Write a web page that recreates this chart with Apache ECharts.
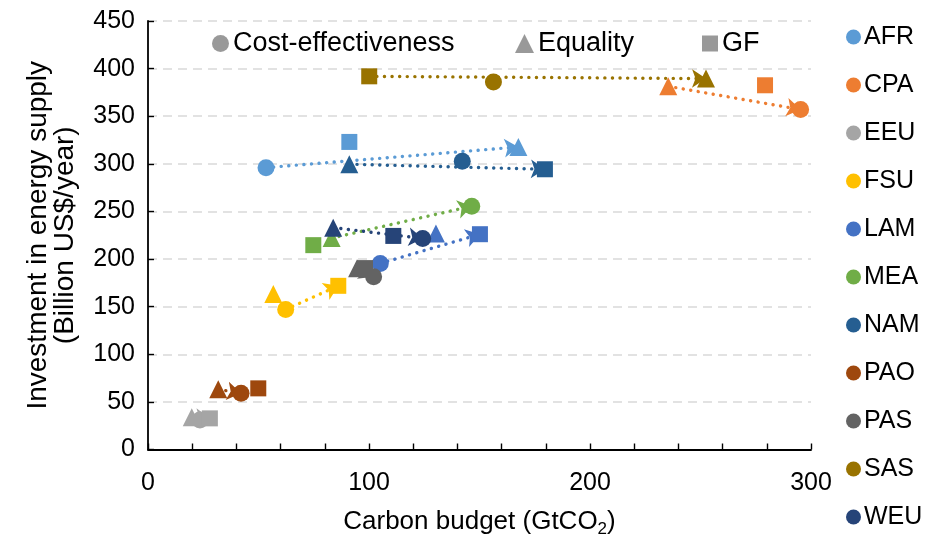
<!DOCTYPE html>
<html>
<head>
<meta charset="utf-8">
<script src="https://cdn.jsdelivr.net/npm/echarts@6/dist/echarts.min.js"></script>
<style>
  html, body { margin: 0; padding: 0; background: #fff; }
  #chart { width: 933px; height: 543px; }
</style>
</head>
<body>
<div id="chart"></div>
<script>
// Regions and their colours
const regions = ['AFR', 'CPA', 'EEU', 'FSU', 'LAM', 'MEA', 'NAM', 'PAO', 'PAS', 'SAS', 'WEU'];
const regionColors = ['#5B9BD5', '#ED7D31', '#A5A5A5', '#FFC000', '#4472C4', '#70AD47',
                      '#255E91', '#9E480E', '#636363', '#997300', '#264478'];

// Scenarios (top legend)
const scenarios = ['Cost-effectiveness', 'Equality', 'GF'];
const scenarioSymbols = ['circle', 'triangle', 'rect'];

// Carbon budget (GtCO2) and investment (Billion US$/year) per scenario, in region order
const costEffX = [53.4, 295.3, 23.5, 62.3, 105.1, 146.5, 142.2, 42.1, 102.1, 156.3, 124.3];
const costEffY = [296, 357, 31, 147, 195.4, 255.5, 302.7, 59, 181.3, 386, 221.6];
const equalityX = [167.6, 235.4, 19.8, 56.7, 130.3, 83.1, 91.1, 31.8, 94.6, 252.5, 83.8];
const equalityY = [317.7, 381.4, 33.8, 163.2, 226.9, 222, 299.6, 63.2, 190.4, 389.5, 233];
const gfX = [91.1, 279.2, 28, 86.1, 150.2, 74.8, 179.6, 49.9, 98.2, 100.1, 111];
const gfY = [323, 382.5, 32.7, 171.9, 226.1, 214.6, 294.3, 64.2, 190.5, 391.9, 224.3];

// Arrow from one scenario to another for each region (0 = cost-eff., 1 = equality, 2 = GF)
const arrowFrom = [0, 1, 1, 0, 0, 1, 1, 1, 1, 2, 1];
const arrowTo   = [1, 0, 2, 2, 2, 0, 2, 0, 0, 1, 0];

// X-axis tick labels
const xTickLabels = [0, 100, 200, 300];

const FONT = '"Liberation Sans", Arial, sans-serif';
const GREY = '#7F7F7F';

function pointOf(regionIdx, scen) {
  const xs = [costEffX, equalityX, gfX][scen];
  const ys = [costEffY, equalityY, gfY][scen];
  return [xs[regionIdx], ys[regionIdx]];
}

const symbolSizes = { circle: 17, triangle: 18, rect: 16 };

const series = [];

// Dotted arrows between scenario points
series.push({
  type: 'lines',
  coordinateSystem: 'cartesian2d',
  z: 1,
  symbol: ['none', 'arrow'],
  symbolSize: [0, 14],
  silent: true,
  data: regions.map((r, i) => ({
    coords: [pointOf(i, arrowFrom[i]), pointOf(i, arrowTo[i])],
    lineStyle: { color: regionColors[i] }
  })),
  lineStyle: { width: 3.4, type: [0.1, 7.5], cap: 'round', opacity: 1 }
});

// One scatter series per region, with one marker per scenario
regions.forEach((r, i) => {
  series.push({
    name: r,
    type: 'scatter',
    z: 3,
    itemStyle: { color: regionColors[i], opacity: 1 },
    data: scenarioSymbols.map((sym, s) => ({
      value: pointOf(i, s),
      symbol: sym,
      symbolSize: symbolSizes[sym]
    }))
  });
});

// Placeholder series carrying the scenario legend entries
scenarios.forEach((s, k) => {
  series.push({
    name: s,
    type: 'scatter',
    symbol: scenarioSymbols[k],
    itemStyle: { color: GREY },
    data: []
  });
});

const chart = echarts.init(document.getElementById('chart'), null, { renderer: 'canvas' });

const scenarioLegendLeft = [207, 510, 697];
const scenarioIconSize = [17, 19, 16];

chart.setOption({
  animation: false,
  backgroundColor: '#fff',
  grid: { left: 148, right: 122, top: 21, bottom: 93.5, containLabel: false },
  legend: [
    {
      orient: 'vertical',
      left: 841,
      top: 19,
      itemGap: 22,
      itemWidth: 15,
      itemHeight: 15,
      icon: 'circle',
      data: regions,
      textStyle: { fontFamily: FONT, fontSize: 25, color: '#000', lineHeight: 26, padding: [0, 0, 0, -2] }
    }
  ].concat(scenarios.map((s, k) => ({
    orient: 'horizontal',
    left: scenarioLegendLeft[k],
    top: 25,
    itemWidth: scenarioIconSize[k],
    itemHeight: scenarioIconSize[k],
    data: [{ name: s, icon: scenarioSymbols[k] }],
    textStyle: { fontFamily: FONT, fontSize: 27, color: '#000', padding: [0, 0, 0, -1] }
  }))),
  xAxis: {
    type: 'value',
    min: 0,
    max: 300,
    interval: 20,
    name: 'Carbon budget (GtCO{sub|2})',
    nameLocation: 'middle',
    nameGap: 57,
    nameTextStyle: {
      fontFamily: FONT, fontSize: 26, color: '#000',
      rich: { sub: { fontFamily: FONT, fontSize: 17, color: '#000', verticalAlign: 'bottom', padding: [14, 0, 0, 0] } }
    },
    axisLine: { show: true, lineStyle: { color: '#000', width: 1.8 } },
    axisTick: { show: true, inside: true, length: 6, lineStyle: { color: '#000', width: 1.4 } },
    axisLabel: {
      fontFamily: FONT, fontSize: 25, color: '#000', margin: 21,
      showMaxLabel: true,
      formatter: v => (xTickLabels.indexOf(v) >= 0 ? String(v) : '')
    },
    splitLine: { show: false }
  },
  yAxis: {
    type: 'value',
    min: 0,
    max: 450,
    interval: 50,
    name: 'Investment in energy supply\n(Billion US$/year)',
    nameLocation: 'middle',
    nameGap: 69,
    nameTextStyle: { fontFamily: FONT, fontSize: 28, color: '#000', lineHeight: 27 },
    axisLine: { show: true, lineStyle: { color: '#000', width: 1.8 } },
    axisTick: { show: true, inside: true, length: 6, lineStyle: { color: '#000', width: 1.4 } },
    axisLabel: { fontFamily: FONT, fontSize: 25, color: '#000', margin: 13 },
    splitLine: { show: true, lineStyle: { color: '#D9D9D9', width: 1.6, type: [9, 6] } }
  },
  series: series
});
</script>
</body>
</html>
